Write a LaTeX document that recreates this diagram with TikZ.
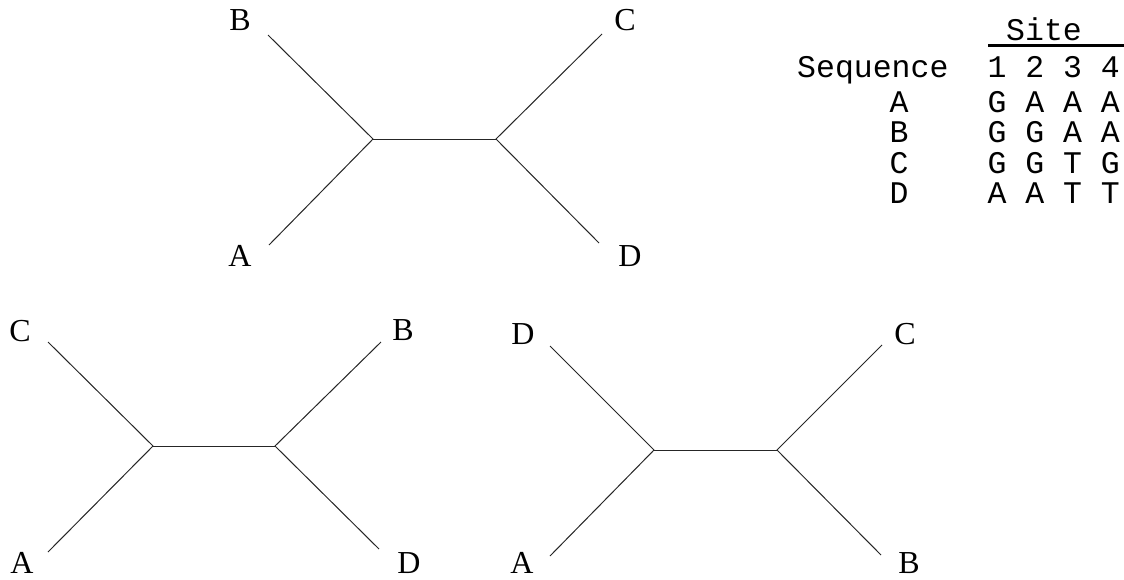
\documentclass[tikz,border=0pt]{standalone}
\usepackage{fontspec}
\setmainfont{Liberation Serif}
\setmonofont{Liberation Mono}
\begin{document}
\begin{tikzpicture}[x=1pt,y=-1pt,
  taxon/.style={inner sep=0pt,font=\fontsize{32}{38}\selectfont},
  seqtxt/.style={inner sep=0pt,anchor=base,font=\ttfamily\fontsize{31.5}{36}\selectfont},
  branch/.style={line width=1pt,black!85}]
\useasboundingbox (0,0) rectangle (1124,579);

% ---------- tree ((A,B),(C,D)) ----------
\node[taxon] (t1B) at (240,20.5) {B};
\node[taxon] (t1C) at (625,20.5) {C};
\node[taxon] (t1A) at (240,256) {A};
\node[taxon] (t1D) at (630,256) {D};
\coordinate (t1b) at (268,35);
\coordinate (t1c) at (602,34);
\coordinate (t1a) at (269,245);
\coordinate (t1d) at (599,243);
\coordinate (t1L) at (373,139);
\coordinate (t1R) at (496,139);
\draw[branch] (t1b) -- (t1L) -- (t1a);
\draw[branch] (t1L) -- (t1R);
\draw[branch] (t1c) -- (t1R) -- (t1d);

% ---------- tree ((A,C),(B,D)) ----------
\node[taxon] (t2C) at (20,331) {C};
\node[taxon] (t2B) at (403,330) {B};
\node[taxon] (t2A) at (22,563) {A};
\node[taxon] (t2D) at (409,563) {D};
\coordinate (t2c) at (48,342);
\coordinate (t2b) at (381,342);
\coordinate (t2a) at (48,552);
\coordinate (t2d) at (379,549);
\coordinate (t2L) at (153,446);
\coordinate (t2R) at (275,446);
\draw[branch] (t2c) -- (t2L) -- (t2a);
\draw[branch] (t2L) -- (t2R);
\draw[branch] (t2b) -- (t2R) -- (t2d);

% ---------- tree ((A,D),(B,C)) ----------
\node[taxon] (t3D) at (523,334) {D};
\node[taxon] (t3C) at (905,334) {C};
\node[taxon] (t3A) at (522,563) {A};
\node[taxon] (t3B) at (909,563) {B};
\coordinate (t3d) at (550,346);
\coordinate (t3c) at (882,345);
\coordinate (t3a) at (550,556);
\coordinate (t3b) at (881,555);
\coordinate (t3L) at (654,450);
\coordinate (t3R) at (777,450);
\draw[branch] (t3d) -- (t3L) -- (t3a);
\draw[branch] (t3L) -- (t3R);
\draw[branch] (t3c) -- (t3R) -- (t3b);

% ---------- sequence table ----------
\node[seqtxt,anchor=base west] (site) at (1006,40) {Site};
\coordinate (ulL) at (988,45);
\coordinate (ulR) at (1124,45);
\draw[line width=3pt] (ulL) -- (ulR);
\node[seqtxt,anchor=base west] (seqhead) at (797,77) {Sequence};
\foreach \d [count=\i from 0] in {1,2,3,4}
  \node[seqtxt] (col\d) at (997+37.8*\i,77) {\d};
\foreach \name/\y/\bases in {A/112/{G,A,A,A},B/142.5/{G,G,A,A},C/173/{G,G,T,G},D/203/{A,A,T,T}}{
  \node[seqtxt] (row\name) at (899,\y) {\name};
  \foreach \b [count=\i from 0] in \bases
    \node[seqtxt] (cell\name\i) at (997+37.8*\i,\y) {\b};
}
\end{tikzpicture}
\end{document}
